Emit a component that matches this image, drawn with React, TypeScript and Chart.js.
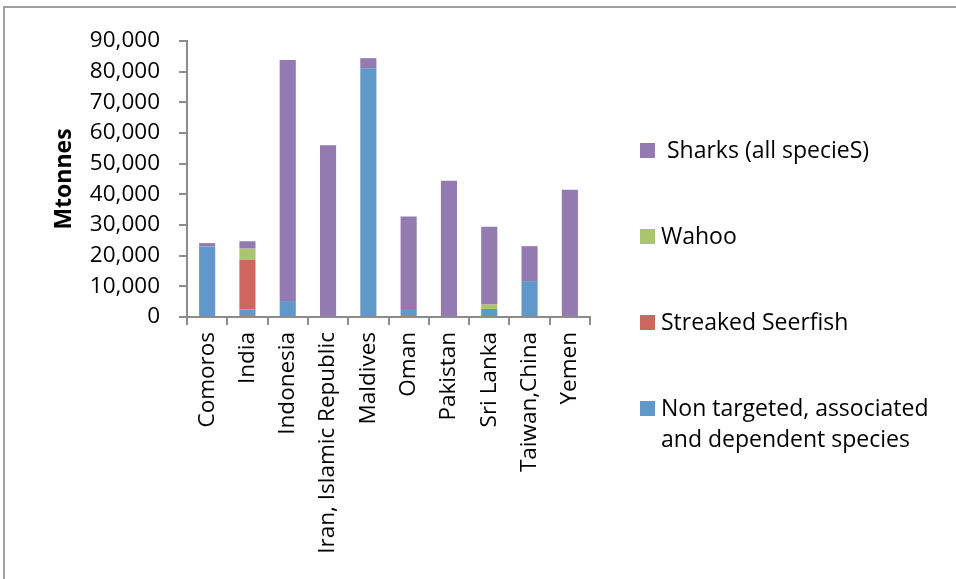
import React, { useEffect, useRef } from "react";
import { Chart, registerables } from "chart.js";
Chart.register(...registerables);

const categories = [
  "Comoros",
  "India",
  "Indonesia",
  "Iran, Islamic Republic",
  "Maldives",
  "Oman",
  "Pakistan",
  "Sri Lanka",
  "Taiwan,China",
  "Yemen",
];
const nonTargeted = [23000, 2500, 5200, 0, 81100, 2600, 0, 2600, 11700, 0];
const streakedSeerfish = [0, 16200, 0, 0, 0, 0, 0, 0, 0, 0];
const wahoo = [0, 3600, 0, 0, 0, 0, 0, 1500, 0, 0];
const sharks = [1100, 2400, 78600, 56000, 3300, 30200, 44400, 25300, 11400, 41500];
const yMin = 0;
const yMax = 90000;
const yStep = 10000;

const seriesNames = [
  "Non targeted, associated and dependent species",
  "Streaked Seerfish",
  "Wahoo",
  " Sharks (all specieS)",
];
const legendLabels = [
  ["Non targeted, associated", "and dependent species"],
  ["Streaked Seerfish"],
  ["Wahoo"],
  ["\u00a0Sharks (all specieS)"],
];
const seriesColors = ["#6198CA", "#CE655E", "#ABC56D", "#937AB1"];
const seriesData = [nonTargeted, streakedSeerfish, wahoo, sharks];

const FONT = "'Open Sans', 'DejaVu Sans', sans-serif";
const AXIS = "#8c8c8c";

export default function App() {
  const ref = useRef<HTMLCanvasElement | null>(null);
  useEffect(() => {
    document.body.style.margin = "0";
    const ctx = ref.current!;
    const chart = new Chart(ctx, {
      type: "bar",
      data: {
        labels: categories,
        datasets: seriesData.map((d, i) => ({
          label: seriesNames[i],
          data: d,
          backgroundColor: seriesColors[i],
          borderWidth: 0,
          categoryPercentage: 1,
          barPercentage: 0.4,
        })),
      },
      options: {
        animation: false,
        responsive: false,
        maintainAspectRatio: false,
        layout: { padding: { left: 0, top: 41, right: 366, bottom: 0 } },
        plugins: { legend: { display: false }, tooltip: { enabled: false } },
        scales: {
          x: {
            stacked: true,
            grid: {
              display: true,
              drawOnChartArea: false,
              drawTicks: true,
              tickLength: 8,
              color: AXIS,
              lineWidth: 2,
              offset: true,
            },
            border: { display: true, color: AXIS, width: 2 },
            ticks: {
              color: "#000",
              font: { family: FONT, size: 22.5 },
              minRotation: 90,
              maxRotation: 90,
              autoSkip: false,
              padding: 7,
            },
            afterFit: (s: any) => {
              s.height = 262;
            },
          },
          y: {
            stacked: true,
            min: yMin,
            max: yMax,
            grid: {
              display: true,
              drawOnChartArea: false,
              drawTicks: true,
              tickLength: 8,
              color: AXIS,
              lineWidth: 2,
            },
            border: { display: true, color: AXIS, width: 2 },
            ticks: {
              stepSize: yStep,
              color: "#000",
              font: { family: FONT, size: 22.5 },
              padding: 19,
              callback: (v: any) => Number(v).toLocaleString("en-US"),
            },
            title: {
              display: true,
              text: "Mtonnes",
              color: "#000",
              font: { family: FONT, size: 23, weight: "bold" },
              padding: { top: 51, bottom: 0 },
            },
            afterFit: (s: any) => {
              s.width = 187;
            },
          },
        },
      },
    });
    return () => chart.destroy();
  }, []);

  const order = [3, 2, 1, 0];
  return (
    <div style={{ position: "relative", width: 956, height: 579, overflow: "hidden", background: "#fff" }}>
      <div
        style={{
          position: "absolute",
          left: 3,
          top: 6,
          width: 1000,
          height: 1000,
          border: "2px solid #a0a0a0",
          boxSizing: "border-box",
        }}
      />
      <canvas ref={ref} width={956} height={579} style={{ position: "absolute", left: 0, top: 0 }} />
      {order.map((si, row) => (
        <div key={si} style={{ position: "absolute", left: 640, top: 143 + row * 86 }}>
          <div style={{ position: "absolute", left: 0, top: 0, width: 15, height: 15, background: seriesColors[si] }} />
          <div
            style={{
              position: "absolute",
              left: 21,
              top: -9,
              fontFamily: FONT,
              fontSize: 23,
              lineHeight: "31px",
              whiteSpace: "nowrap",
              color: "#000",
            }}
          >
            {legendLabels[si].map((t, k) => (
              <div key={k}>{t}</div>
            ))}
          </div>
        </div>
      ))}
    </div>
  );
}
